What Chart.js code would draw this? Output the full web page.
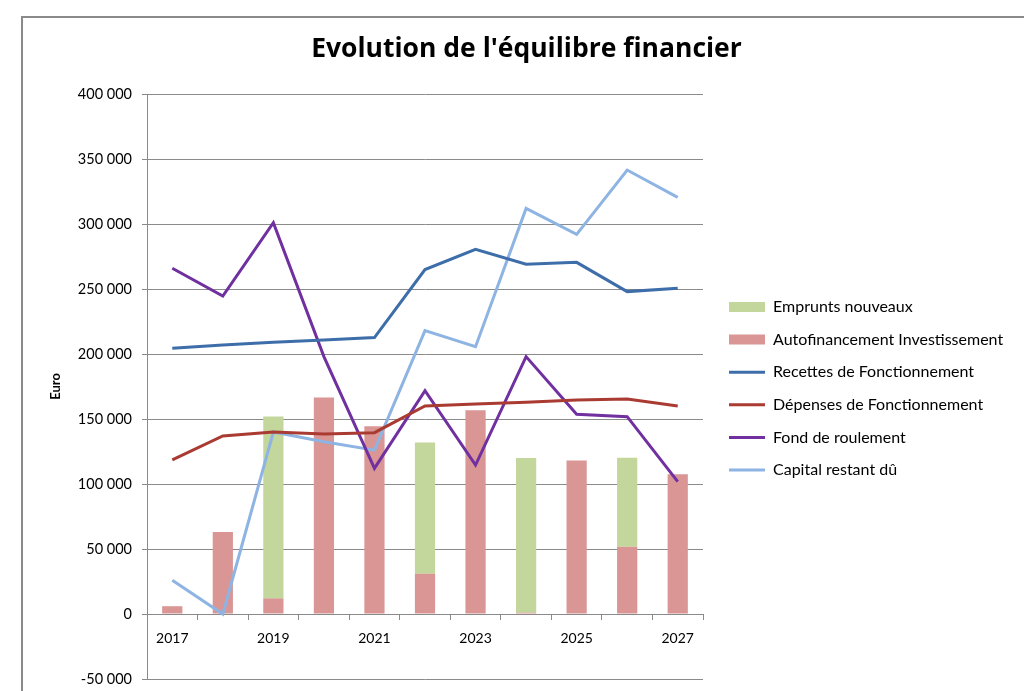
<!DOCTYPE html>
<html lang="fr">
<head>
<meta charset="utf-8">
<title>Evolution de l'équilibre financier</title>
<script src="https://cdn.jsdelivr.net/npm/chart.js@4/dist/chart.umd.min.js"></script>
<style>
  html, body { margin: 0; padding: 0; background: #fff; }
  #wrap { position: relative; width: 1024px; height: 691px; overflow: hidden; }
  /* the grey frame of the Excel chart object, cut by the screenshot */
  #frame {
    position: absolute; left: 21px; top: 16px; width: 1100px; height: 800px;
    border-left: 2px solid #8a8a8a; border-top: 2px solid #8a8a8a;
  }
  #chart { position: absolute; left: 0; top: 0; }
</style>
</head>
<body>
<div id="wrap">
  <div id="frame"></div>
  <canvas id="chart" width="1024" height="691"></canvas>
</div>
<script>
"use strict";

// ── Data ──────────────────────────────────────────────────
const years = ["2017", "2018", "2019", "2020", "2021", "2022", "2023", "2024", "2025", "2026", "2027"];

const empruntsNouveaux = [0, 0, 140000, 0, 0, 101000, 0, 119000, 0, 68500, 0];
const autofinancement  = [6000, 63000, 12000, 166500, 144500, 31000, 156700, 1000, 118000, 51700, 107500];
const recettesFonct    = [204500, 207000, 209000, 210800, 212600, 265000, 280500, 269000, 270500, 248000, 250500];
const depensesFonct    = [118500, 137000, 140000, 138500, 139500, 160000, 161500, 162800, 164600, 165400, 160000];
const fondRoulement    = [266000, 244600, 301000, 198000, 112000, 171800, 114600, 198000, 153600, 151800, 101800];
const capitalRestant   = [26000, 0, 140000, 132500, 126000, 218000, 205600, 312000, 292000, 341500, 320500];

const yMin = -50000;
const yMax = 400000;
const yStep = 50000;

// ── Styling ───────────────────────────────────────────────
const GRID = "#8a8a8a";
const LEGEND_W = 311.6;   // legend box width, so the plot ends where Excel's does

Chart.defaults.font.family = "Lato, 'Open Sans', sans-serif";
Chart.defaults.color = "#000";

/** "350000" -> "350 000" like the French Excel number format. */
function frNumber(v) {
  const s = Math.abs(v).toString().replace(/\B(?=(\d{3})+(?!\d))/g, " ");
  return (v < 0 ? "-" : "") + s;
}

/** Force the legend to a fixed width (Chart.js has no option for that). */
const legendWidthPlugin = {
  id: "legendWidth",
  beforeLayout(chart) {
    const lg = chart.legend;
    if (lg && !lg._fixedWidth) {
      const fit = lg.fit.bind(lg);
      lg.fit = function () { fit(); this.width = LEGEND_W; };
      lg._fixedWidth = true;
    }
  },
};

function lineSet(label, data, color, stack) {
  return {
    type: "line", label, data,
    borderColor: color, backgroundColor: color,
    borderWidth: 3, pointRadius: 0, tension: 0,
    stack, order: 0,
  };
}

new Chart(document.getElementById("chart"), {
  data: {
    labels: years,
    datasets: [
      { type: "bar", label: "Emprunts nouveaux", data: empruntsNouveaux,
        backgroundColor: "#c3d69b", stack: "inv", order: 2,
        barPercentage: 0.4, categoryPercentage: 1 },
      { type: "bar", label: "Autofinancement Investissement", data: autofinancement,
        backgroundColor: "#d99694", stack: "inv", order: 1,
        barPercentage: 0.4, categoryPercentage: 1 },
      lineSet("Recettes de Fonctionnement", recettesFonct, "#3e6ea9", "l1"),
      lineSet("Dépenses de Fonctionnement", depensesFonct, "#aa3b33", "l2"),
      lineSet("Fond de roulement", fondRoulement, "#7030a0", "l3"),
      lineSet("Capital restant dû", capitalRestant, "#8db4e2", "l4"),
    ],
  },
  options: {
    responsive: false,
    animation: false,
    layout: { padding: { left: 29, right: 0, top: 0, bottom: 12 } },
    scales: {
      x: {
        type: "category",
        position: { y: 0 },          // Excel puts the category axis on the 0 line
        grid: { offset: true, drawOnChartArea: false, drawTicks: true, tickLength: 5, color: GRID },
        border: { display: true, color: GRID, width: 1 },
        ticks: {
          autoSkip: false, maxRotation: 0, padding: 11,
          font: { size: 14 },
          callback: (v, i) => (i % 2 === 0 ? years[i] : ""),
        },
        // the axis sits inside the plot, so it must not eat layout space
        afterFit: (s) => { s.height = 0; s.paddingTop = 0; s.paddingBottom = 0; },
      },
      y: {
        type: "linear", stacked: true,
        min: yMin, max: yMax,
        grid: { color: GRID, lineWidth: 1, drawTicks: true, tickLength: 5 },
        border: { display: true, color: GRID, width: 1 },
        ticks: { stepSize: yStep, padding: 10, font: { size: 14.5 }, callback: (v) => frNumber(v) },
        title: { display: true, text: "Euro", font: { size: 13, weight: "bold" }, padding: { top: 19, bottom: 0 } },
        // fixed width; the bottom label overhang is covered by the layout padding
        afterFit: (s) => { s.width = 118; s.paddingBottom = 0; },
      },
      // empty spacer between the plot and the legend
      gap: {
        type: "linear", position: "right", display: true,
        grid: { display: false }, ticks: { display: false }, border: { display: false },
        afterFit: (s) => { s.width = 9.4; },
      },
    },
    plugins: {
      title: {
        display: true,
        text: "Evolution de l'équilibre financier",
        font: { family: "'Open Sans', Lato, sans-serif", size: 26.5, weight: "bold" },
        color: "#000",
        padding: { top: 34, bottom: 28.2 },
      },
      legend: {
        position: "right",
        // empty legend title only pushes the item list down to Excel's spot
        title: { display: true, text: " ", font: { size: 10 }, padding: { top: 43, bottom: 43 } },
        labels: {
          usePointStyle: true,
          pointStyleWidth: 36,
          boxHeight: 10,
          padding: 16.6,
          font: { size: 16 },
          color: "#000",
          sort: (a, b) => a.datasetIndex - b.datasetIndex,
          generateLabels(chart) {
            const items = Chart.defaults.plugins.legend.labels.generateLabels(chart);
            items.forEach((it) => {
              const ds = chart.data.datasets[it.datasetIndex];
              it.pointStyle = ds.type === "line" ? "line" : "rect";
              if (ds.type !== "line") it.lineWidth = 0;
            });
            return items;
          },
        },
      },
      tooltip: { enabled: false },
    },
  },
  plugins: [legendWidthPlugin],
});
</script>
</body>
</html>
